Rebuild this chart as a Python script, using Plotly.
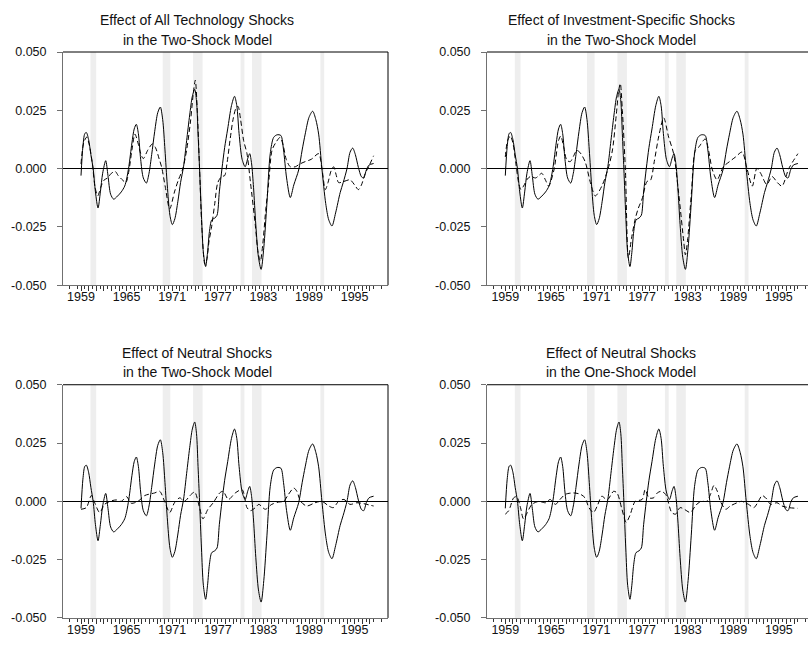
import plotly.graph_objects as go

# ---------------- data ----------------
solid_x = [1959.0, 1959.25, 1959.5, 1959.7, 1960.0, 1960.3, 1960.6, 1960.9, 1961.24, 1961.55, 1961.85,
           1962.25, 1962.55, 1962.9, 1963.3, 1963.8, 1964.3, 1964.75, 1965.0, 1965.3, 1965.7, 1966.0,
           1966.28, 1966.55, 1966.85, 1967.2, 1967.6, 1967.95, 1968.3, 1968.7, 1969.1, 1969.44, 1969.75,
           1970.05, 1970.35, 1970.7, 1971.02, 1971.35, 1971.75, 1972.1, 1972.5, 1972.9, 1973.3, 1973.65,
           1973.96, 1974.2, 1974.4, 1974.6, 1974.85, 1975.1, 1975.4, 1975.65, 1975.9, 1976.2, 1976.6,
           1976.9, 1977.2, 1977.55, 1977.9, 1978.3, 1978.8, 1979.2, 1979.5, 1979.8, 1980.2, 1980.6,
           1980.95, 1981.2, 1981.45, 1981.7, 1982.0, 1982.35, 1982.7, 1983.05, 1983.47, 1983.9, 1984.35,
           1984.8, 1985.3, 1985.65, 1986.05, 1986.54, 1987.0, 1987.64, 1988.1, 1988.5, 1989.0, 1989.48,
           1989.9, 1990.27, 1990.7, 1991.2, 1991.6, 1992.02, 1992.5, 1993.1, 1993.5, 1994.0, 1994.4,
           1994.75, 1995.1, 1995.5, 1995.9, 1996.2, 1996.55, 1996.9, 1997.5]
solid_y = [-0.0030, 0.0095, 0.0150, 0.0155, 0.0125, 0.0060, 0.0000, -0.0100, -0.0169, -0.0100, -0.0020,
           0.0034, -0.0030, -0.0110, -0.0131, -0.0118, -0.0100, -0.0075, -0.0045, 0.0010, 0.0110, 0.0170,
           0.0190, 0.0150, 0.0040, -0.0040, -0.0062, -0.0020, 0.0060, 0.0160, 0.0240, 0.0264, 0.0210,
           0.0080, -0.0070, -0.0200, -0.0240, -0.0215, -0.0140, -0.0060, 0.0010, 0.0120, 0.0230, 0.0310,
           0.0340, 0.0290, 0.0150, 0.0000, -0.0200, -0.0360, -0.0420, -0.0360, -0.0270, -0.0220, -0.0212,
           -0.0200, -0.0100, 0.0000, 0.0090, 0.0170, 0.0270, 0.0310, 0.0270, 0.0150, 0.0040, 0.0008,
           0.0045, 0.0064, 0.0020, -0.0080, -0.0240, -0.0380, -0.0432, -0.0340, -0.0145, 0.0064, 0.0134,
           0.0145, 0.0142, 0.0080, -0.0040, -0.0124, -0.0070, -0.0006, 0.0080, 0.0148, 0.0220, 0.0246,
           0.0210, 0.0148, 0.0000, -0.0150, -0.0220, -0.0246, -0.0190, -0.0103, -0.0060, 0.0000, 0.0070,
           0.0088, 0.0060, 0.0005, -0.0035, -0.0040, -0.0005, 0.0015, 0.0022]

# Effect of all technology shocks, two-shock model
all_x = [1959.0, 1959.35, 1959.75, 1960.1, 1960.5, 1960.85, 1961.2, 1961.6, 1962.0, 1962.5, 1963.0,
         1963.5, 1963.9, 1964.5, 1964.9, 1965.3, 1965.7, 1966.1, 1966.5, 1966.9, 1967.2, 1967.8, 1968.4,
         1968.8, 1969.3, 1969.6, 1970.1, 1970.67, 1971.3, 1971.8, 1972.4, 1972.9, 1973.4, 1973.8, 1974.04,
         1974.3, 1974.6, 1974.9, 1975.3, 1975.55, 1975.85, 1976.15, 1976.6, 1977.0, 1977.5, 1977.9, 1978.2,
         1978.6, 1979.0, 1979.4, 1979.66, 1980.0, 1980.4, 1980.84, 1981.3, 1981.94, 1982.3, 1982.6, 1982.9,
         1983.3, 1983.69, 1984.13, 1984.6, 1985.2, 1985.6, 1986.0, 1986.54, 1987.2, 1987.8, 1988.5, 1989.3,
         1990.27, 1990.7, 1991.15, 1991.5, 1991.9, 1992.24, 1992.6, 1992.9, 1993.6, 1994.4, 1995.0, 1995.5,
         1995.9, 1996.4, 1996.85, 1997.5]
all_y = [0.0020, 0.0110, 0.0135, 0.0100, 0.0020, -0.0080, -0.0117, -0.0080, -0.0050, -0.0040, -0.0020,
         -0.0012, -0.0030, -0.0050, -0.0060, -0.0010, 0.0080, 0.0148, 0.0110, 0.0060, 0.0043, 0.0080, 0.0106,
         0.0090, 0.0040, 0.0008, -0.0080, -0.0173, -0.0100, -0.0050, 0.0000, 0.0080, 0.0200, 0.0330, 0.0379,
         0.0250, 0.0000, -0.0250, -0.0410, -0.0390, -0.0310, -0.0257, -0.0150, -0.0060, -0.0034, -0.0030, 0.0020,
         0.0120, 0.0210, 0.0260, 0.0267, 0.0210, 0.0120, 0.0064, -0.0060, -0.0243, -0.0360, -0.0397, -0.0330,
         -0.0180, -0.0062, 0.0078, 0.0110, 0.0134, 0.0100, 0.0040, 0.0008, 0.0008, 0.0020, 0.0030, 0.0040,
         0.0064, 0.0000, -0.0090, -0.0060, -0.0010, 0.0008, -0.0030, -0.0060, -0.0055, -0.0048, -0.0070, -0.0090,
         -0.0070, -0.0020, 0.0008, 0.0055]

# Effect of investment-specific shocks, two-shock model
inv_x = [1959.0, 1959.3, 1959.66, 1960.0, 1960.4, 1960.75, 1961.05, 1961.4, 1961.9, 1962.3, 1963.0,
         1963.4, 1963.8, 1964.3, 1964.7, 1965.4, 1966.0, 1966.3, 1966.7, 1967.1, 1967.55, 1968.0, 1968.4,
         1968.8, 1969.5, 1970.2, 1970.84, 1971.7, 1972.6, 1973.1, 1973.6, 1973.9, 1974.13, 1974.4, 1974.8,
         1975.2, 1975.6, 1976.1, 1976.5, 1977.0, 1977.65, 1978.1, 1978.6, 1979.2, 1979.84, 1980.5, 1981.15,
         1981.8, 1982.47, 1982.7, 1983.0, 1983.5, 1984.0, 1984.45, 1985.3, 1985.8, 1986.2, 1986.86, 1987.7,
         1988.5, 1989.3, 1990.15, 1990.8, 1991.5, 1992.1, 1992.6, 1993.4, 1994.1, 1994.8, 1995.4, 1996.3,
         1997.5]
inv_y = [0.0050, 0.0120, 0.0140, 0.0110, 0.0020, -0.0060, -0.0090, -0.0075, -0.0045, -0.0034, -0.0040,
         -0.0030, -0.0020, -0.0050, -0.0075, -0.0006, 0.0120, 0.0140, 0.0090, 0.0036, 0.0030, 0.0055, 0.0078,
         0.0070, 0.0030, -0.0060, -0.0117, -0.0075, 0.0008, 0.0080, 0.0230, 0.0330, 0.0365, 0.0250, -0.0006,
         -0.0383, -0.0300, -0.0215, -0.0170, -0.0130, -0.0055, -0.0050, 0.0030, 0.0140, 0.0218, 0.0134, 0.0064,
         -0.0103, -0.0310, -0.0370, -0.0300, -0.0100, 0.0078, 0.0092, 0.0127, 0.0070, 0.0000, -0.0048, 0.0008,
         0.0030, 0.0050, 0.0071, 0.0000, -0.0075, 0.0001, -0.0020, -0.0068, -0.0034, -0.0060, -0.0075, 0.0000,
         0.0064]

# Effect of neutral shocks, two-shock model
neu2_x = [1959.0, 1959.7, 1960.36, 1960.8, 1961.46, 1962.1, 1962.8, 1963.65, 1964.3, 1965.0, 1965.6,
          1966.5, 1967.4, 1968.7, 1969.35, 1970.0, 1970.67, 1971.3, 1972.0, 1972.6, 1973.5, 1973.96, 1974.6,
          1975.05, 1975.7, 1976.4, 1977.25, 1977.7, 1978.4, 1979.3, 1980.2, 1980.84, 1981.3, 1981.94, 1982.4,
          1983.25, 1984.1, 1985.0, 1985.66, 1986.3, 1987.0, 1987.4, 1987.9, 1988.7, 1989.8, 1990.7, 1991.6,
          1992.2, 1992.9, 1993.6, 1994.4, 1995.3, 1996.2, 1996.85, 1997.5]
neu2_y = [-0.0034, -0.0027, 0.0025, -0.0006, -0.0048, -0.0013, 0.0000, 0.0006, 0.0000, 0.0020, -0.0008,
          0.0000, 0.0025, 0.0036, 0.0043, 0.0000, -0.0048, -0.0006, 0.0015, 0.0000, 0.0030, 0.0040, -0.0027,
          -0.0075, -0.0034, -0.0006, 0.0036, 0.0043, 0.0008, 0.0036, 0.0050, -0.0027, -0.0040, -0.0027, -0.0013,
          -0.0034, -0.0013, -0.0003, 0.0000, 0.0030, 0.0057, 0.0043, 0.0000, -0.0020, -0.0006, 0.0000, -0.0020,
          -0.0027, 0.0000, 0.0008, -0.0013, -0.0006, -0.0010, -0.0015, -0.0020]

# Effect of neutral shocks, one-shock model
neu1_x = [1959.0, 1959.45, 1960.1, 1960.5, 1961.0, 1961.4, 1962.1, 1962.5, 1963.4, 1964.3, 1964.9,
          1965.6, 1966.2, 1966.9, 1968.0, 1968.9, 1969.5, 1970.0, 1970.6, 1971.1, 1971.7, 1972.4, 1973.25,
          1973.7, 1974.35, 1974.9, 1975.4, 1976.1, 1977.0, 1977.4, 1977.9, 1978.5, 1979.0, 1979.5, 1980.1,
          1980.9, 1981.4, 1982.0, 1982.6, 1983.35, 1984.0, 1984.7, 1985.5, 1986.0, 1986.45, 1986.9, 1987.3,
          1988.0, 1988.6, 1989.5, 1990.1, 1991.0, 1991.7, 1992.3, 1992.8, 1993.4, 1993.9, 1994.75, 1995.4,
          1996.3, 1997.5]
neu1_y = [-0.0055, -0.0040, 0.0015, 0.0020, -0.0027, -0.0075, -0.0034, -0.0013, 0.0000, -0.0006, 0.0008,
          -0.0013, 0.0008, 0.0030, 0.0036, 0.0030, 0.0015, -0.0027, -0.0048, -0.0020, 0.0022, 0.0006, 0.0043,
          0.0036, -0.0034, -0.0090, -0.0060, 0.0000, 0.0008, 0.0050, 0.0015, 0.0015, 0.0036, 0.0043, 0.0030,
          -0.0048, -0.0055, -0.0027, -0.0035, -0.0048, -0.0020, 0.0000, 0.0000, 0.0030, 0.0068, 0.0043, 0.0000,
          -0.0034, -0.0020, -0.0006, 0.0000, -0.0013, -0.0027, 0.0000, 0.0025, 0.0010, -0.0013, -0.0006, -0.0020,
          -0.0027, -0.0030]

recession_start = [1960.25, 1969.75, 1973.75, 1980.0, 1981.5, 1990.5]
recession_end = [1961.0, 1970.75, 1975.0, 1980.5, 1982.75, 1991.0]

panel_titles = [["Effect of All Technology Shocks", "in the Two-Shock Model"],
                ["Effect of Investment-Specific Shocks", "in the Two-Shock Model"],
                ["Effect of Neutral Shocks", "in the Two-Shock Model"],
                ["Effect of Neutral Shocks", "in the One-Shock Model"]]
dashed_series = [(all_x, all_y), (inv_x, inv_y), (neu2_x, neu2_y), (neu1_x, neu1_y)]

y_tickvals = [-0.05, -0.025, 0.0, 0.025, 0.05]
y_ticktext = ["-0.050", "-0.025", "0.000", "0.025", "0.050"]
x_years = list(range(1959, 1998))
x_ticktext = [str(y) if (y - 1959) % 6 == 0 else "" for y in x_years]

# ---------------- layout geometry (pixels) ----------------
W, H = 808, 654
PX_PER_YEAR = 7.6
# (left, right, top, bottom, x-pixel of 1959)
panels = [(63, 388, 46, 284.3, 81.0),
          (487, 808, 46, 284.3, 505.3),
          (63, 388, 386, 624.3, 81.0),
          (487, 808, 386, 624.3, 505.3)]
FONT = "Liberation Sans, Arial, sans-serif"
AXIS_GREY = "#707070"

fig = go.Figure()
shapes = []
annotations = []

for i, (l, r, t, b, x59) in enumerate(panels):
    n = i + 1
    xa = "x" if n == 1 else f"x{n}"
    ya = "y" if n == 1 else f"y{n}"
    xr = [1959 + (l - x59) / PX_PER_YEAR, 1959 + (r - x59) / PX_PER_YEAR]
    xkey = "xaxis" if n == 1 else f"xaxis{n}"
    ykey = "yaxis" if n == 1 else f"yaxis{n}"
    fig.layout[xkey] = dict(
        domain=[l / W, min(r / W, 1.0)], range=xr, anchor=ya,
        showgrid=False, zeroline=False, showline=True, linecolor=AXIS_GREY, linewidth=1,
        tickmode="array", tickvals=x_years, ticktext=x_ticktext,
        ticks="outside", ticklen=5, tickwidth=1, tickcolor="#333",
        ticklabelstandoff=-5,
        minor=dict(ticks="outside", ticklen=3, tickcolor="#333", tickwidth=1,
                   tickmode="linear", tick0=1959.5, dtick=1),
        tickfont=dict(family=FONT, size=12.5, color="#111"),
        fixedrange=True,
    )
    fig.layout[ykey] = dict(
        domain=[1 - b / H, 1 - t / H], range=[-0.05, 0.05], anchor=xa,
        showgrid=False, zeroline=True, zerolinecolor="#000", zerolinewidth=1,
        showline=True, linecolor=AXIS_GREY, linewidth=1,
        tickmode="array", tickvals=y_tickvals, ticktext=y_ticktext,
        ticks="outside", ticklen=5, tickwidth=1, tickcolor=AXIS_GREY,
        ticklabelstandoff=8,
        tickfont=dict(family=FONT, size=12.5, color="#111"),
        fixedrange=True,
    )
    # recession shading
    for s, e in zip(recession_start, recession_end):
        shapes.append(dict(type="rect", xref=xa, yref=f"{ya} domain", x0=s, x1=e, y0=0, y1=1,
                           fillcolor="#eeeeee", line=dict(width=0), layer="below"))
    # top border
    shapes.append(dict(type="line", xref=f"{xa} domain", yref=f"{ya} domain", x0=0, x1=1, y0=1, y1=1,
                       line=dict(color="#000", width=1)))
    # right border (visible only for left panels)
    if r < W:
        shapes.append(dict(type="line", xref=f"{xa} domain", yref=f"{ya} domain", x0=1, x1=1, y0=0, y1=1,
                           line=dict(color="#000", width=1)))
    # traces
    fig.add_trace(go.Scatter(x=solid_x, y=solid_y, mode="lines", xaxis=xa, yaxis=ya,
                             line=dict(color="#000", width=1, shape="spline", smoothing=0.8),
                             showlegend=False, hoverinfo="skip"))
    dx, dy = dashed_series[i]
    fig.add_trace(go.Scatter(x=dx, y=dy, mode="lines", xaxis=xa, yaxis=ya,
                             line=dict(color="#000", width=1, dash="5px,3px", shape="spline", smoothing=0.8),
                             showlegend=False, hoverinfo="skip"))
    # titles
    cx = 197 if l < 400 else 621
    t1y = 13.3 if t < 200 else 353.3
    for k, line in enumerate(panel_titles[i]):
        annotations.append(dict(text=line, xref="paper", yref="paper", x=cx / W,
                                y=1 - (t1y + 20 * k) / H, xanchor="center", yanchor="middle",
                                showarrow=False, font=dict(family=FONT, size=14, color="#111")))

fig.update_layout(width=W, height=H, margin=dict(l=0, r=0, t=0, b=0),
                  paper_bgcolor="white", plot_bgcolor="white",
                  shapes=shapes, annotations=annotations, showlegend=False)
fig.write_html("out.html", config={"displayModeBar": False})
